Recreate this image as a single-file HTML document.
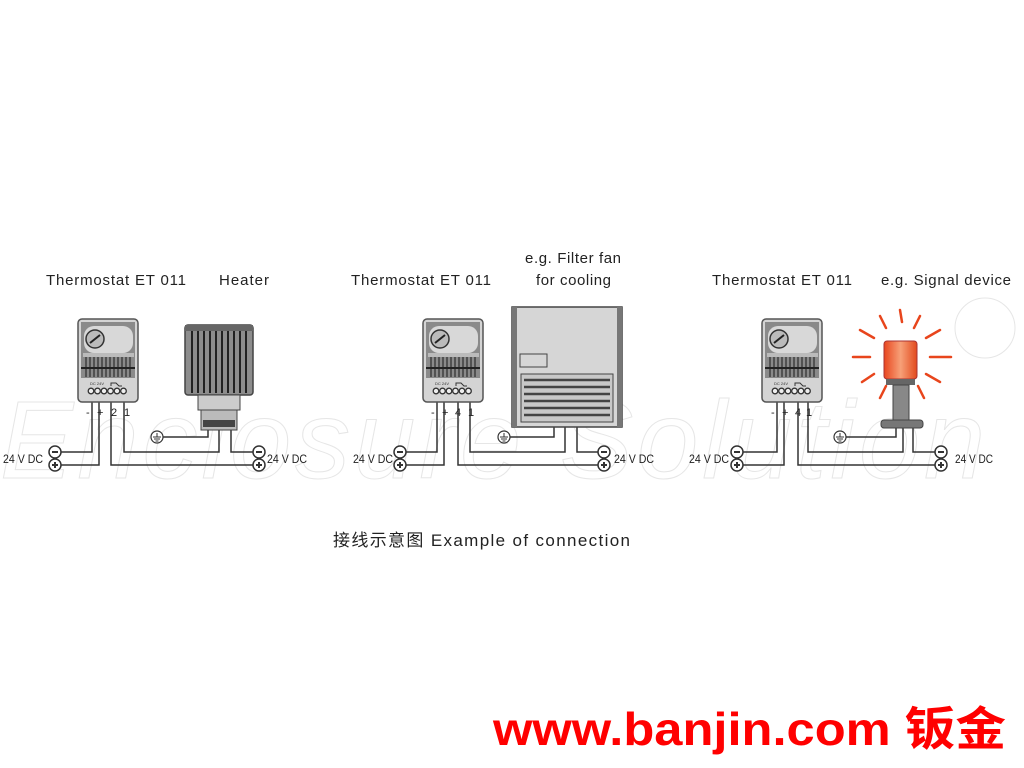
<!DOCTYPE html>
<html><head><meta charset="utf-8"><style>
html,body{margin:0;padding:0;background:#fff;width:1024px;height:768px;overflow:hidden}
svg{display:block}
text{font-family:"Liberation Sans","Noto Sans CJK SC",sans-serif}
</style></head><body>
<svg width="1024" height="768" viewBox="0 0 1024 768" xmlns="http://www.w3.org/2000/svg">
<defs>
<g id="th">
 <rect x="0" y="0" width="60" height="83" rx="4" fill="#d4d4d4" stroke="#555" stroke-width="1.5"/>
 <rect x="3" y="3" width="54" height="56" fill="#8a8a8a"/>
 <rect x="6" y="7" width="49" height="27" rx="10" fill="#d8d8d8"/>
 <circle cx="17" cy="20" r="9" fill="#bbb" stroke="#333" stroke-width="1.5"/>
 <line x1="12" y1="24" x2="22" y2="16" stroke="#222" stroke-width="2"/>
 <rect x="5" y="34" width="51" height="4" fill="#bbb"/>
 <g stroke="#333" stroke-width="1.3">
  <line x1="8" y1="38" x2="8" y2="58"/><line x1="12" y1="38" x2="12" y2="58"/><line x1="16" y1="38" x2="16" y2="58"/><line x1="20" y1="38" x2="20" y2="58"/><line x1="24" y1="38" x2="24" y2="58"/><line x1="28" y1="38" x2="28" y2="58"/><line x1="32" y1="38" x2="32" y2="58"/><line x1="36" y1="38" x2="36" y2="58"/><line x1="40" y1="38" x2="40" y2="58"/><line x1="44" y1="38" x2="44" y2="58"/><line x1="48" y1="38" x2="48" y2="58"/><line x1="52" y1="38" x2="52" y2="58"/>
 </g>
 <line x1="3" y1="49" x2="57" y2="49" stroke="#222" stroke-width="2"/>
 <text x="12" y="66" font-size="4" fill="#333">DC 24V</text>
 <path d="M33 67 v-3 h5 l3 3 h3" fill="none" stroke="#333" stroke-width="1"/>
 <g fill="#eee" stroke="#333" stroke-width="1.3">
  <circle cx="13" cy="72" r="2.8"/><circle cx="19.5" cy="72" r="2.8"/><circle cx="26" cy="72" r="2.8"/><circle cx="32.5" cy="72" r="2.8"/><circle cx="39" cy="72" r="2.8"/><circle cx="45.5" cy="72" r="2.8"/>
 </g>
</g>
<g id="minus"><circle r="6" fill="#fff" stroke="#333" stroke-width="1.5"/><line x1="-3" y1="0" x2="3" y2="0" stroke="#333" stroke-width="2"/></g>
<g id="plus"><circle r="6" fill="#fff" stroke="#333" stroke-width="1.5"/><line x1="-3" y1="0" x2="3" y2="0" stroke="#333" stroke-width="2"/><line x1="0" y1="-3" x2="0" y2="3" stroke="#333" stroke-width="2"/></g>
<g id="gnd"><circle r="6" fill="#fff" stroke="#333" stroke-width="1.2"/><line x1="0" y1="-4" x2="0" y2="0" stroke="#333"/><line x1="-4" y1="0" x2="4" y2="0" stroke="#333"/><line x1="-3" y1="2" x2="3" y2="2" stroke="#333"/><line x1="-1.5" y1="4" x2="1.5" y2="4" stroke="#333"/></g>
<linearGradient id="lamp" x1="0" x2="1"><stop offset="0" stop-color="#e8461e"/><stop offset="0.5" stop-color="#f7a078"/><stop offset="1" stop-color="#e24a1d"/></linearGradient>
</defs>

<!-- watermark -->
<g fill="none" stroke="#e6e6e6" stroke-width="1" font-style="italic">
<text x="0" y="478" font-size="110" font-family="Liberation Sans" style="letter-spacing:4px">Enclosure Solution</text>
<circle cx="985" cy="328" r="30"/>
</g>

<g font-size="15" fill="#222">
<text x="46" y="285" textLength="140">Thermostat ET 011</text>
<text x="219" y="285" textLength="50">Heater</text>
<text x="351" y="285" textLength="140">Thermostat ET 011</text>
<text x="525" y="263" textLength="96">e.g. Filter fan</text>
<text x="536" y="285" textLength="75">for cooling</text>
<text x="712" y="285" textLength="140">Thermostat ET 011</text>
<text x="881" y="285" textLength="130">e.g. Signal device</text>
</g>

<g fill="none" stroke="#333" stroke-width="1.5">
<path d="M92 402 V452 H61"/><path d="M99 402 V465 H61"/><path d="M111 402 V465 H253"/><path d="M124 402 V452 H219 V430"/><path d="M163 437 H208 V430"/><path d="M231 430 V452 H253"/>
<path d="M437 402 V452 H406"/><path d="M444 402 V465 H406"/><path d="M458 402 V465 H598"/><path d="M470 402 V452 H565 V427"/><path d="M510 437 H554 V427"/><path d="M577 427 V452 H598"/>
<path d="M777 402 V452 H743"/><path d="M784 402 V465 H743"/><path d="M798 402 V465 H935"/><path d="M808 402 V452 H903 V428"/><path d="M846 437 H896 V428"/><path d="M913 428 V452 H935"/>
</g>

<use href="#th" x="78" y="319"/>
<use href="#th" x="423" y="319"/>
<use href="#th" x="762" y="319"/>

<g font-size="11" fill="#222">
<text x="86" y="416">-</text><text x="97" y="416">+</text><text x="111" y="416">2</text><text x="124" y="416">1</text>
<text x="431" y="416">-</text><text x="442" y="416">+</text><text x="455" y="416">4</text><text x="468" y="416">1</text>
<text x="771" y="416">-</text><text x="782" y="416">+</text><text x="795" y="416">4</text><text x="806" y="416">1</text>
</g>

<!-- heater -->
<rect x="185" y="325" width="68" height="70" rx="3" fill="#8d8d8d" stroke="#444" stroke-width="1.5"/>
<rect x="185" y="325" width="68" height="6" fill="#666"/>
<g stroke="#222" stroke-width="2">
<line x1="192" y1="331" x2="192" y2="393"/><line x1="198" y1="331" x2="198" y2="393"/><line x1="204" y1="331" x2="204" y2="393"/><line x1="210" y1="331" x2="210" y2="393"/><line x1="216" y1="331" x2="216" y2="393"/><line x1="222" y1="331" x2="222" y2="393"/><line x1="228" y1="331" x2="228" y2="393"/><line x1="234" y1="331" x2="234" y2="393"/><line x1="240" y1="331" x2="240" y2="393"/><line x1="246" y1="331" x2="246" y2="393"/>
</g>
<rect x="198" y="395" width="42" height="15" fill="#ccc" stroke="#444"/>
<rect x="201" y="410" width="36" height="20" fill="#bbb" stroke="#444"/>
<rect x="203" y="420" width="32" height="7" fill="#444"/>

<!-- fan -->
<rect x="512" y="307" width="110" height="120" fill="#d6d6d6" stroke="#444" stroke-width="1.5"/>
<rect x="512" y="307" width="5" height="120" fill="#777"/><rect x="617" y="307" width="5" height="120" fill="#777"/>
<rect x="520" y="354" width="27" height="13" fill="none" stroke="#444"/>
<rect x="521" y="374" width="92" height="48" fill="#c8c8c8" stroke="#444"/>
<g stroke="#444" stroke-width="2.5">
<line x1="524" y1="380" x2="610" y2="380"/><line x1="524" y1="387" x2="610" y2="387"/><line x1="524" y1="394" x2="610" y2="394"/><line x1="524" y1="401" x2="610" y2="401"/><line x1="524" y1="408" x2="610" y2="408"/><line x1="524" y1="415" x2="610" y2="415"/>
</g>

<!-- signal device -->
<g stroke="#e8451c" stroke-width="2.5" stroke-linecap="round">
<line x1="900" y1="310" x2="902" y2="322"/><line x1="920" y1="316" x2="914" y2="328"/><line x1="880" y1="316" x2="886" y2="328"/>
<line x1="940" y1="330" x2="926" y2="338"/><line x1="860" y1="330" x2="874" y2="338"/>
<line x1="951" y1="357" x2="930" y2="357"/><line x1="853" y1="357" x2="870" y2="357"/>
<line x1="940" y1="382" x2="926" y2="374"/><line x1="862" y1="382" x2="874" y2="374"/>
<line x1="880" y1="398" x2="886" y2="386"/><line x1="924" y1="398" x2="918" y2="386"/>
</g>
<rect x="884" y="341" width="33" height="38" rx="3" fill="url(#lamp)" stroke="#a33" stroke-width="1"/>
<rect x="886" y="379" width="29" height="6" fill="#666"/>
<rect x="893" y="385" width="16" height="36" fill="#888" stroke="#444"/>
<rect x="881" y="420" width="42" height="8" rx="3" fill="#777" stroke="#444"/>

<use href="#minus" x="55" y="452"/><use href="#plus" x="55" y="465"/>
<use href="#minus" x="259" y="452"/><use href="#plus" x="259" y="465"/>
<use href="#gnd" x="157" y="437"/>
<use href="#minus" x="400" y="452"/><use href="#plus" x="400" y="465"/>
<use href="#minus" x="604" y="452"/><use href="#plus" x="604" y="465"/>
<use href="#gnd" x="504" y="437"/>
<use href="#minus" x="737" y="452"/><use href="#plus" x="737" y="465"/>
<use href="#minus" x="941" y="452"/><use href="#plus" x="941" y="465"/>
<use href="#gnd" x="840" y="437"/>

<g font-size="12" fill="#222">
<text x="3" y="463" textLength="40" lengthAdjust="spacingAndGlyphs">24 V DC</text><text x="267" y="463" textLength="40" lengthAdjust="spacingAndGlyphs">24 V DC</text>
<text x="353" y="463" textLength="40" lengthAdjust="spacingAndGlyphs">24 V DC</text><text x="614" y="463" textLength="40" lengthAdjust="spacingAndGlyphs">24 V DC</text>
<text x="689" y="463" textLength="40" lengthAdjust="spacingAndGlyphs">24 V DC</text><text x="955" y="463" textLength="38" lengthAdjust="spacingAndGlyphs">24 V DC</text>
</g>

<text x="333" y="546" font-size="17" fill="#222" textLength="297">接线示意图 Example of connection</text>
<text x="493" y="745" font-size="46" font-weight="bold" fill="#f00" textLength="513" lengthAdjust="spacingAndGlyphs">www.banjin.com 钣金</text>
</svg>
</body></html>
